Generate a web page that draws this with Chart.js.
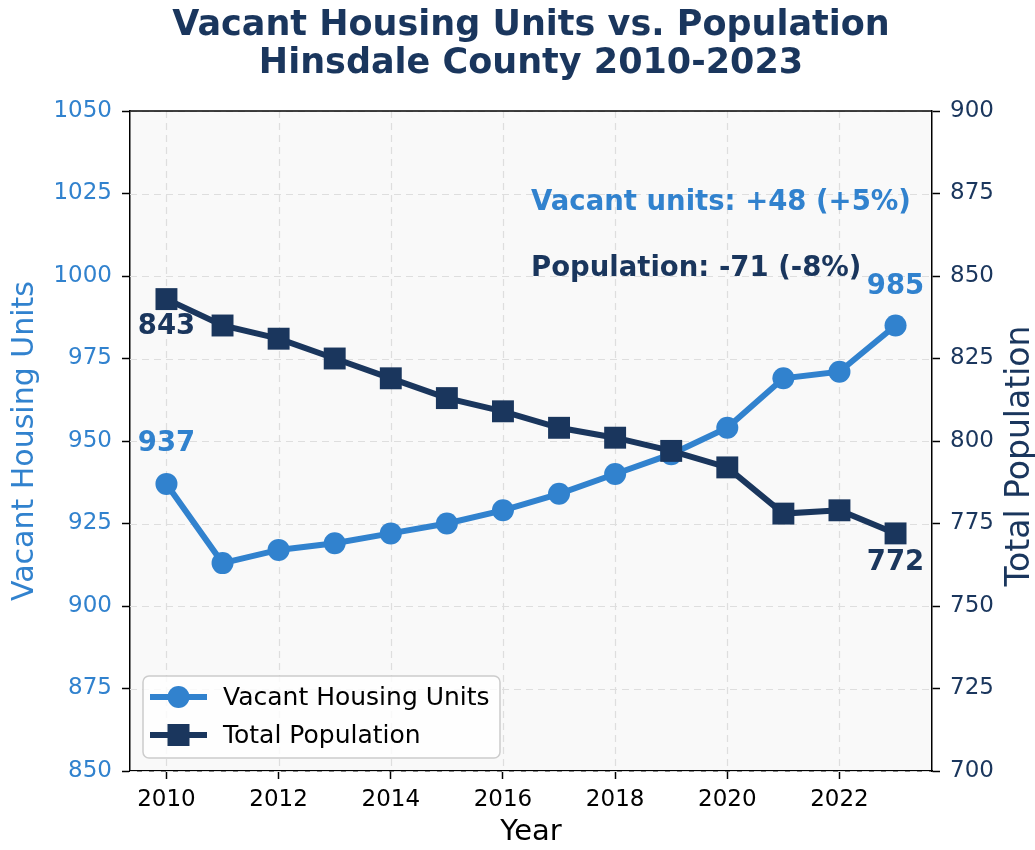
<!DOCTYPE html>
<html lang="en">
<head>
    <meta charset="UTF-8">
    <title>Vacant Housing Units vs. Population</title>
    <script src="https://cdn.jsdelivr.net/npm/chart.js"></script>
    <style>
        html, body { margin: 0; padding: 0; background: #fff; }
        #wrap { width: 1035px; height: 850px; }
    </style>
</head>
<body>
    <div id="wrap"><canvas id="myChart" width="1035" height="850"></canvas></div>
    <script>
        // Data
        const years = [2010, 2011, 2012, 2013, 2014, 2015, 2016, 2017, 2018, 2019, 2020, 2021, 2022, 2023];
        const vacantUnits = [937, 913, 917, 919, 922, 925, 929, 934, 940, 946, 954, 969, 971, 985];
        const population = [843, 835, 831, 825, 819, 813, 809, 804, 801, 797, 792, 778, 779, 772];
        const xTicks = [2010, 2012, 2014, 2016, 2018, 2020, 2022];
        const titleLines = ['Vacant Housing Units vs. Population', 'Hinsdale County 2010-2023'];
        const notes = ['Vacant units: +48 (+5%)', 'Population: -71 (-8%)'];
        const axisTitles = { y: 'Vacant Housing Units', y1: 'Total Population' };

        const BLUE = '#3182ce';
        const NAVY = '#1a365d';
        const FONT = '"DejaVu Sans", sans-serif';

        const toPoints = vals => vals.map((v, i) => ({ x: years[i], y: v }));

        // background, grid, title, labels, legend
        const decor = {
            id: 'decor',
            beforeDraw(chart) {
                const { ctx, chartArea: a } = chart;
                ctx.save();
                ctx.fillStyle = '#ffffff';
                ctx.fillRect(0, 0, chart.width, chart.height);
                ctx.fillStyle = '#f9f9f9';
                ctx.fillRect(a.left, a.top, a.right - a.left, a.bottom - a.top);
                // title
                ctx.fillStyle = NAVY;
                ctx.font = 'bold 35px ' + FONT;
                ctx.textAlign = 'center';
                ctx.textBaseline = 'middle';
                const cx = (a.left + a.right) / 2;
                ctx.fillText(titleLines[0], cx, 26);
                ctx.fillText(titleLines[1], cx, 64);

                // rotated y axis titles, both reading bottom to top
                const cy = (a.top + a.bottom) / 2;
                ctx.textBaseline = 'alphabetic';
                ctx.save();
                ctx.font = '30px ' + FONT;
                ctx.translate(33, cy);
                ctx.rotate(-Math.PI / 2);
                ctx.fillStyle = BLUE;
                ctx.fillText(axisTitles.y, 0, 0);
                ctx.restore();
                ctx.save();
                ctx.font = '33px ' + FONT;
                ctx.translate(1029, cy + 15);
                ctx.rotate(-Math.PI / 2);
                ctx.fillStyle = NAVY;
                ctx.fillText(axisTitles.y1, 0, 0);
                ctx.restore();
                ctx.restore();
            },
            beforeDatasetsDraw(chart) {
                const { ctx, chartArea: a, scales } = chart;
                ctx.save();
                ctx.strokeStyle = '#dedede';
                ctx.lineWidth = 1.2;
                ctx.setLineDash([7, 5]);
                scales.x.ticks.forEach(t => {
                    const px = Math.round(scales.x.getPixelForValue(t.value)) + 0.5;
                    ctx.beginPath(); ctx.moveTo(px, a.top); ctx.lineTo(px, a.bottom); ctx.stroke();
                });
                scales.y.ticks.forEach(t => {
                    const py = Math.round(scales.y.getPixelForValue(t.value)) + 0.5;
                    ctx.beginPath(); ctx.moveTo(a.left, py); ctx.lineTo(a.right, py); ctx.stroke();
                });
                ctx.restore();
            },
            afterDraw(chart) {
                const { ctx, chartArea: a, scales } = chart;
                ctx.save();
                // top spine
                ctx.strokeStyle = '#000';
                ctx.lineWidth = 1.5;
                ctx.beginPath(); ctx.moveTo(a.left, a.top); ctx.lineTo(a.right, a.top); ctx.stroke();

                // end point labels
                const last = years.length - 1;
                ctx.font = 'bold 27.5px ' + FONT;
                ctx.textAlign = 'center';
                ctx.textBaseline = 'middle';
                ctx.fillStyle = BLUE;
                ctx.fillText(String(vacantUnits[0]), scales.x.getPixelForValue(years[0]), scales.y.getPixelForValue(vacantUnits[0]) - 40);
                ctx.fillText(String(vacantUnits[last]), scales.x.getPixelForValue(years[last]), scales.y.getPixelForValue(vacantUnits[last]) - 39);
                ctx.fillStyle = NAVY;
                ctx.fillText(String(population[0]), scales.x.getPixelForValue(years[0]), scales.y1.getPixelForValue(population[0]) + 28);
                ctx.fillText(String(population[last]), scales.x.getPixelForValue(years[last]), scales.y1.getPixelForValue(population[last]) + 29);

                // change notes (axes fraction)
                const w = a.right - a.left, h = a.bottom - a.top;
                ctx.textAlign = 'left';
                ctx.textBaseline = 'alphabetic';
                ctx.fillStyle = BLUE;
                ctx.fillText(notes[0], a.left + 0.5 * w, a.bottom - 0.85 * h);
                ctx.fillStyle = NAVY;
                ctx.fillText(notes[1], a.left + 0.5 * w, a.bottom - 0.75 * h);

                // legend inside the plot
                const bx = a.left + 13, by = a.bottom - 95, bw = 357, bh = 82;
                ctx.beginPath();
                ctx.roundRect(bx, by, bw, bh, 6);
                ctx.fillStyle = 'rgba(255,255,255,0.8)';
                ctx.fill();
                ctx.strokeStyle = '#cccccc';
                ctx.lineWidth = 1.5;
                ctx.stroke();
                const order = [1, 0];
                order.forEach((di, row) => {
                    const ds = chart.data.datasets[di];
                    const ry = by + 21 + row * 38;
                    ctx.strokeStyle = ds.borderColor;
                    ctx.lineWidth = 6;
                    ctx.beginPath(); ctx.moveTo(bx + 7, ry); ctx.lineTo(bx + 64, ry); ctx.stroke();
                    ctx.fillStyle = ds.borderColor;
                    if (ds.pointStyle === 'circle') {
                        ctx.beginPath(); ctx.arc(bx + 35.5, ry, 11, 0, Math.PI * 2); ctx.fill();
                    } else {
                        ctx.fillRect(bx + 35.5 - 11, ry - 11, 22, 22);
                    }
                    ctx.fillStyle = '#000';
                    ctx.font = '25px ' + FONT;
                    ctx.textAlign = 'left';
                    ctx.textBaseline = 'middle';
                    ctx.fillText(ds.label, bx + 80, ry + 1);
                });
                ctx.restore();
            }
        };

        const ctx = document.getElementById('myChart').getContext('2d');
        const myChart = new Chart(ctx, {
            type: 'line',
            data: {
                datasets: [
                    {
                        label: 'Total Population',
                        data: toPoints(population),
                        yAxisID: 'y1',
                        borderColor: NAVY,
                        backgroundColor: NAVY,
                        borderWidth: 6,
                        pointStyle: 'rect',
                        pointRadius: 15.5,
                        pointBorderWidth: 0,
                        tension: 0,
                        order: 0
                    },
                    {
                        label: 'Vacant Housing Units',
                        data: toPoints(vacantUnits),
                        yAxisID: 'y',
                        borderColor: BLUE,
                        backgroundColor: BLUE,
                        borderWidth: 6,
                        pointStyle: 'circle',
                        pointRadius: 11,
                        pointBorderWidth: 0,
                        tension: 0,
                        order: 1
                    }
                ]
            },
            options: {
                responsive: false,
                animation: false,
                devicePixelRatio: 1,
                clip: false,
                layout: { padding: { top: 111, left: 0, right: 0, bottom: 0 } },
                plugins: {
                    legend: { display: false },
                    title: { display: false },
                    tooltip: { enabled: false }
                },
                scales: {
                    x: {
                        type: 'linear',
                        min: 2009.35,
                        max: 2023.65,
                        afterBuildTicks: s => { s.ticks = xTicks.map(v => ({ value: v })); },
                        afterFit: s => { s.height = 79; },
                        ticks: {
                            callback: v => String(v),
                            color: '#000',
                            font: { family: FONT, size: 23 },
                            padding: 7,
                            maxRotation: 0
                        },
                        grid: { drawOnChartArea: false, tickLength: 8, tickColor: '#000', tickWidth: 1.5 },
                        border: { color: '#000', width: 1.5 },
                        title: { display: true, text: 'Year', color: '#000', font: { family: FONT, size: 29 }, padding: 0 }
                    },
                    y: {
                        position: 'left',
                        min: 850,
                        max: 1050,
                        afterFit: s => { s.width = 130; },
                        ticks: { stepSize: 25, callback: v => String(v), color: BLUE, font: { family: FONT, size: 23 }, padding: 10 },
                        grid: { drawOnChartArea: false, tickLength: 8, tickColor: '#000', tickWidth: 1.5 },
                        border: { color: '#000', width: 1.5 }
                    },
                    y1: {
                        position: 'right',
                        min: 700,
                        max: 900,
                        afterFit: s => { s.width = 103; },
                        ticks: { stepSize: 25, callback: v => String(v), color: NAVY, font: { family: FONT, size: 23 }, padding: 10 },
                        grid: { drawOnChartArea: false, tickLength: 8, tickColor: '#000', tickWidth: 1.5 },
                        border: { color: '#000', width: 1.5 }
                    }
                }
            },
            plugins: [decor]
        });
    </script>
</body>
</html>
